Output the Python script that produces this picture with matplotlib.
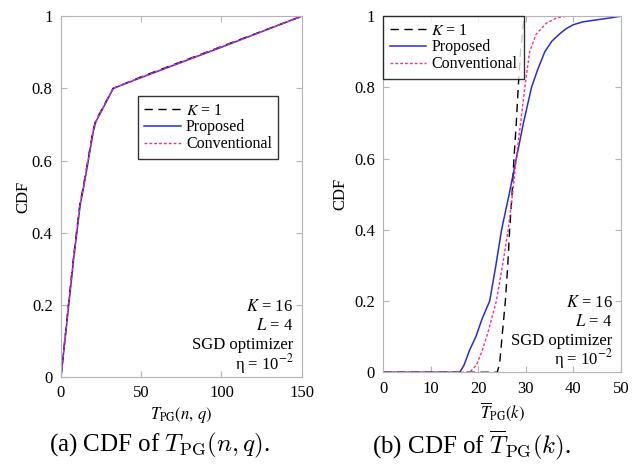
import matplotlib
matplotlib.use("Agg")
import matplotlib.pyplot as plt
import numpy as np

plt.rcParams['font.family'] = ['Liberation Serif', 'DejaVu Serif']
plt.rcParams['mathtext.fontset'] = 'stix'

# (a) CDF of T_PG(n, q)
a_x_k1 = [0, 4.5, 8, 11.8, 14, 20, 21.6, 32.5, 50, 75, 100, 125, 150]
a_y_k1 = [0, 0.195, 0.34, 0.48, 0.53, 0.684, 0.71, 0.80, 0.832, 0.874, 0.916, 0.958, 1.0]
a_x_prop = [0, 4.6, 8.1, 12, 14.2, 20.2, 21.8, 32.6, 50, 75, 100, 125, 150]
a_y_prop = [0, 0.19, 0.335, 0.478, 0.528, 0.682, 0.708, 0.80, 0.83, 0.872, 0.914, 0.957, 1.0]
a_x_conv = [0, 4.5, 8, 11.9, 14.1, 20.1, 21.7, 32.5, 50, 75, 100, 125, 150]
a_y_conv = [0, 0.193, 0.338, 0.48, 0.53, 0.683, 0.709, 0.80, 0.831, 0.873, 0.915, 0.957, 1.0]

# (b) CDF of mean T_PG(k)
b_x_k1 = [0, 24, 24.5, 25, 25.7, 26.2, 26.6, 27.1, 27.5, 28.0, 28.4, 28.9, 29.4, 29.8, 50]
b_y_k1 = [0, 0, 0.025, 0.1, 0.2, 0.3, 0.4, 0.5, 0.6, 0.7, 0.8, 0.9, 0.97, 1.0, 1.0]
b_x_prop = [0, 16.1, 17, 18.2, 19.5, 20.8, 22.4, 23.7, 24.9, 26.5, 28.0, 29.5, 31.2, 32.5,
            34.0, 35.5, 37.1, 38.5, 40, 42, 44, 47.7, 50]
b_y_prop = [0, 0, 0.02, 0.063, 0.1, 0.15, 0.2, 0.3, 0.4, 0.5, 0.6, 0.7, 0.8, 0.85,
            0.9, 0.93, 0.95, 0.965, 0.976, 0.984, 0.988, 0.995, 1.0]
b_x_conv = [0, 18.2, 19.6, 20.8, 22.0, 23.8, 25.1, 26.3, 27.2, 28.0, 28.9, 29.8, 30.8,
            32.2, 34.3, 36.5, 38.5, 50]
b_y_conv = [0, 0, 0.02, 0.06, 0.11, 0.2, 0.3, 0.4, 0.5, 0.6, 0.7, 0.8, 0.9,
            0.95, 0.98, 0.995, 1.0, 1.0]

labels = ['$K$ = 1', 'Proposed', 'Conventional']
params = ['$K$ = 16', '$L$ = 4', 'SGD optimizer', 'η = 10$^{-2}$']

blue = '#2b2bdc'
pink = '#ff2a8c'
frame = '#b4b4b4'

fig = plt.figure(figsize=(6.42, 4.76), dpi=100)
ax1 = fig.add_axes([0.095, 0.208, 0.375, 0.758])
ax2 = fig.add_axes([0.597, 0.218, 0.370, 0.748])


def style(ax, lp):
    for s in ax.spines.values():
        s.set_color(frame)
        s.set_linewidth(0.8)
    ax.tick_params(direction='in', top=True, right=True, length=4, width=0.8,
                   color=frame, labelsize=12, pad=6)
    ax.set_ylim(0, 1)
    ax.set_yticks([0, 0.2, 0.4, 0.6, 0.8, 1])
    ax.set_yticklabels(['0', '0.2', '0.4', '0.6', '0.8', '1'])
    ax.set_ylabel('CDF', fontsize=12, labelpad=lp)


def curves(ax, xk, yk, xp, yp, xc, yc):
    ax.plot(xk, yk, color='black', lw=1.0, dashes=(6, 4), label=labels[0])
    ax.plot(xp, yp, color=blue, lw=1.1, label=labels[1])
    ax.plot(xc, yc, color=pink, lw=1.0, dashes=(2, 1.5), label=labels[2])


def note(ax):
    for i, t in enumerate(params):
        ax.text(0.965, 0.195 - i * 0.053, t, transform=ax.transAxes,
                ha='right', va='center', fontsize=12)


def legend(ax, anchor):
    leg = ax.legend(loc='upper left', bbox_to_anchor=anchor, fontsize=11.5,
                    frameon=True, fancybox=False, edgecolor='black', handlelength=2.3,
                    handletextpad=0.3, labelspacing=0.05, borderpad=0.4, borderaxespad=0)
    leg.get_frame().set_linewidth(1.0)


curves(ax1, a_x_k1, a_y_k1, a_x_prop, a_y_prop, a_x_conv, a_y_conv)
style(ax1, 0)
ax1.set_xlim(0, 150)
ax1.set_xticks([0, 50, 100, 150])
ax1.set_xlabel(r'$T_{\mathrm{PG}}(n,\,q)$', fontsize=12, labelpad=3)
legend(ax1, (0.32, 0.778))
note(ax1)

curves(ax2, b_x_k1, b_y_k1, b_x_prop, b_y_prop, b_x_conv, b_y_conv)
style(ax2, 4)
ax2.set_xlim(0, 50)
ax2.set_xticks([0, 10, 20, 30, 40, 50])
ax2.set_xlabel(r'$\overline{T}_{\mathrm{PG}}(k)$', fontsize=12, labelpad=3)
legend(ax2, (0.0, 1.0))
note(ax2)

fig.text(0.248, 0.065, r'(a) CDF of $T_{\mathrm{PG}}(n, q)$.', ha='center', va='center',
         fontsize=18, math_fontfamily='cm')
fig.text(0.735, 0.065, r'(b) CDF of $\overline{T}_{\mathrm{PG}}(k)$.', ha='center', va='center',
         fontsize=18, math_fontfamily='cm')

fig.savefig('out.png', dpi=100)
